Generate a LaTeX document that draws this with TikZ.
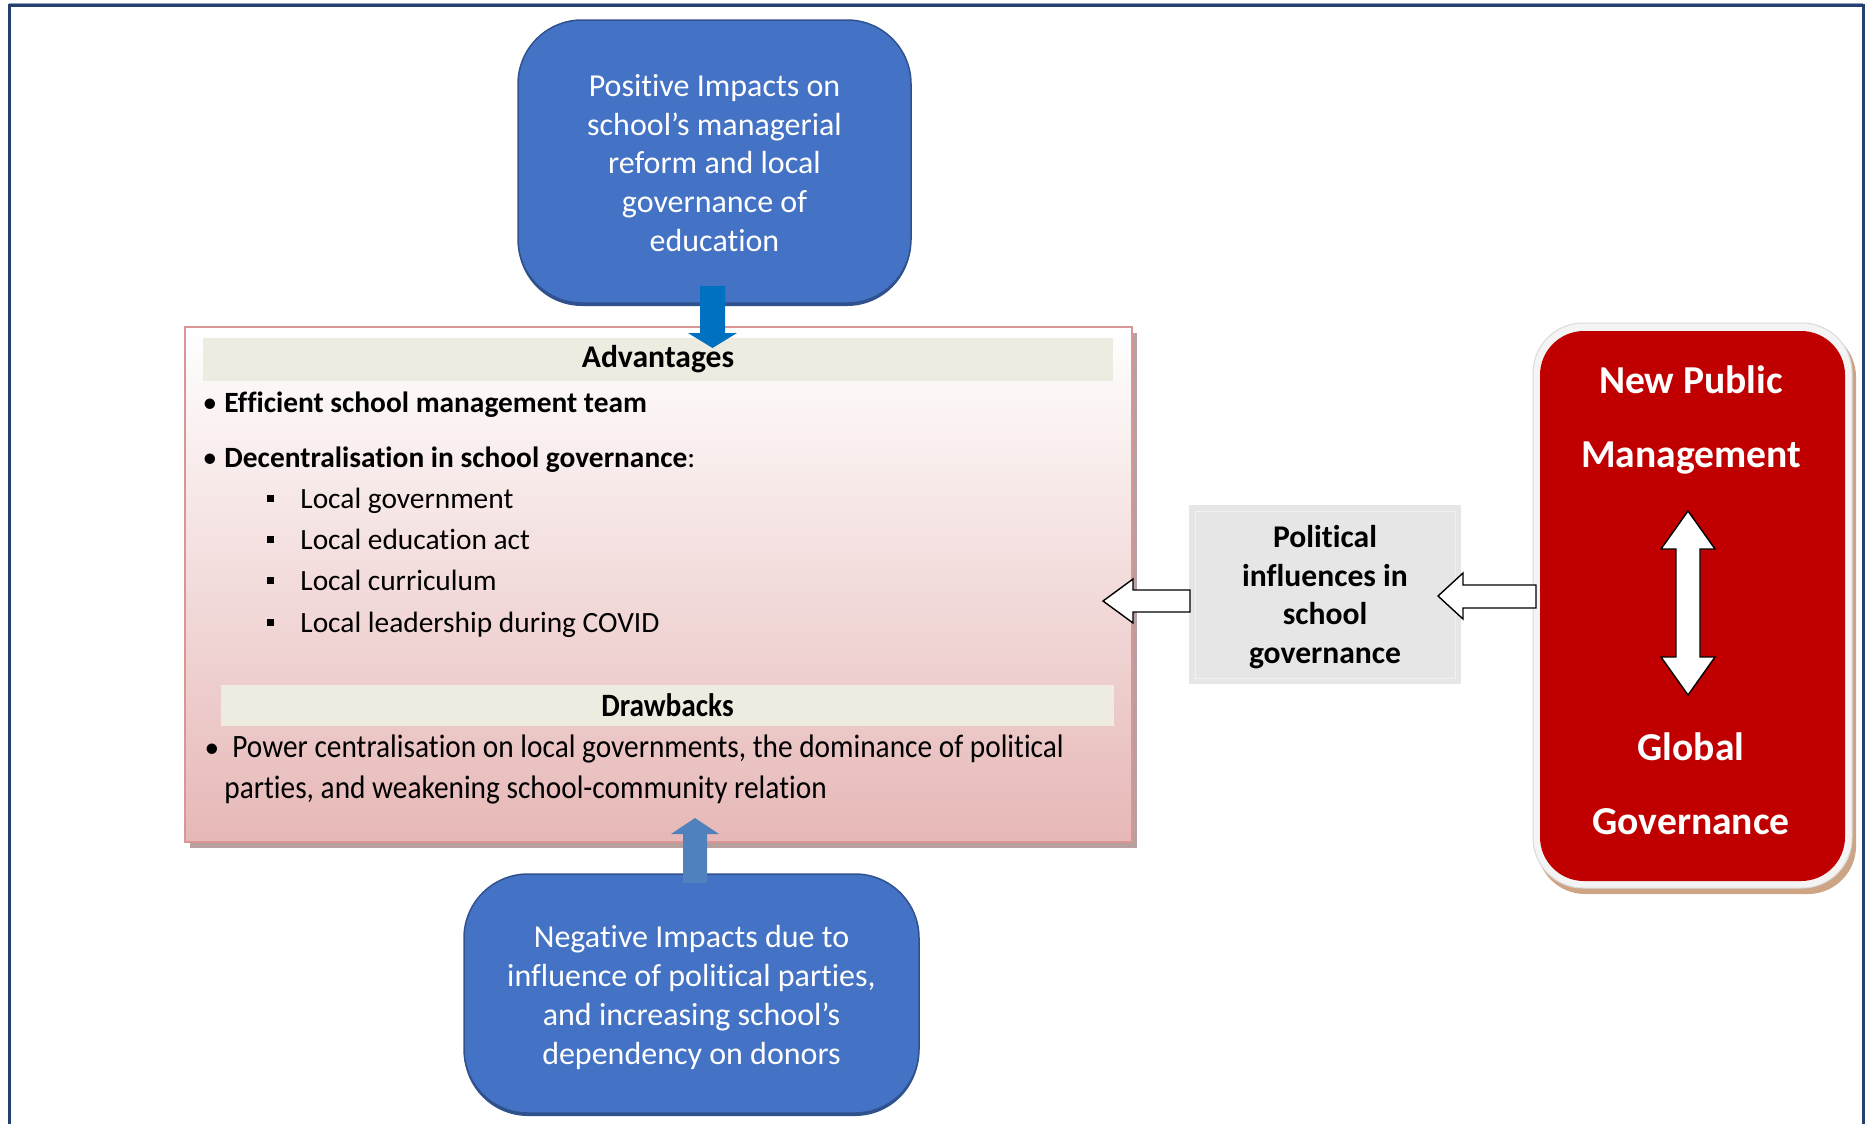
\documentclass[tikz,border=0pt]{standalone}
\usepackage{fontspec}
\setmainfont{Carlito}[Ligatures=NoCommon]
\usetikzlibrary{calc}

\definecolor{frameblue}{HTML}{24406E}
\definecolor{framelight}{HTML}{8FA3C0}
\definecolor{boxblue}{HTML}{4472C4}
\definecolor{boxblueline}{HTML}{2F528F}
\definecolor{arrowblue}{HTML}{0070C0}
\definecolor{arrowblueB}{HTML}{4F81BD}
\definecolor{pinkline}{HTML}{D99694}
\definecolor{pinkbottom}{HTML}{E6B8B7}
\definecolor{pinkmid}{HTML}{F3E0E0}
\definecolor{pinkshadow}{HTML}{B8A0A0}
\definecolor{bandbeige}{HTML}{EEECE1}
\definecolor{greybox}{HTML}{E6E6E6}
\definecolor{greyinner}{HTML}{F2F2F2}
\definecolor{npmred}{HTML}{C00000}
\definecolor{npmrim}{HTML}{F4F4F4}
\definecolor{npmrimline}{HTML}{DADADA}
\definecolor{npmshadow}{HTML}{CDA585}

\tikzset{
  bluebox/.style={draw=boxblueline, fill=boxblue, line width=0.75pt,
    rounded corners=32pt, text=white, align=center, inner sep=0pt,
    font=\fontsize{16}{19.4}\selectfont},
  bandbox/.style={fill=bandbeige, inner sep=0pt,
    font=\bfseries\fontsize{15.8}{19}\selectfont},
  listtxt/.style={anchor=base west, inner sep=0pt,
    font=\fontsize{14.7}{17}\selectfont},
  bulletdot/.style={anchor=base, inner sep=0pt,
    font=\fontsize{14.7}{17}\selectfont},
  sqbullet/.style={fill=black, minimum size=3.5pt, inner sep=0pt},
  hollowarrow/.style={draw=black, fill=white, line width=0.7pt, line join=miter},
  redtxt/.style={text=white, align=center, inner sep=0pt,
    font=\bfseries\fontsize{19.8}{37}\selectfont},
}

\begin{document}
\begin{tikzpicture}[x=0.5pt,y=-0.5pt]
\useasboundingbox (0,0) rectangle (1872,1124);

% page frame (open at the bottom)
\draw[framelight, line width=0.6pt] (9,3.4) -- (1863,3.4);
\draw[frameblue, line width=1.5pt] (9,1124) -- (9,5.5) -- (1863,5.5) -- (1863,1124);

% ---------------- central panel ----------------
\fill[pinkshadow] (190,333) rectangle (1137,848);
\node[draw=pinkline, line width=1.1pt, top color=white, middle color=pinkmid,
      bottom color=pinkbottom, minimum width=473.5pt, minimum height=257.5pt,
      inner sep=0pt] (panel) at (658.5,584.5) {};

\node[bandbox, minimum width=455pt, minimum height=21.5pt] (advhead)
  at (658,359.5) {Advantages};

\node[bulletdot] (d1) at (210,412) {•};
\node[listtxt] (adv1) at (224,412) {\textbf{Efficient school management team}};
\node[bulletdot] (d2) at (210,467) {•};
\node[listtxt] (adv2) at (224,467) {\textbf{Decentralisation in school governance}:};

\node[sqbullet] (s1) at (270,498) {};
\node[listtxt] (l1) at (300,508) {Local government};
\node[sqbullet] (s2) at (270,539) {};
\node[listtxt] (l2) at (300,549) {Local education act};
\node[sqbullet] (s3) at (270,580) {};
\node[listtxt] (l3) at (300,590) {Local curriculum};
\node[sqbullet] (s4) at (270,622) {};
\node[listtxt] (l4) at (300,632) {Local leadership during COVID};

\node[bandbox, minimum width=446.5pt, minimum height=20.5pt] (drhead)
  at (667.5,705.5) {\scalebox{0.9}[1]{\fontsize{16.3}{19}\selectfont\bfseries Drawbacks}};

\node[bulletdot] (d3) at (212,757) {•};
\node[listtxt] (dr1) at (232,757)
  {\scalebox{0.9}[1]{\fontsize{16.3}{19}\selectfont Power centralisation on local governments, the dominance of political}};
\node[listtxt] (dr2) at (224,798)
  {\scalebox{0.9}[1]{\fontsize{16.3}{19}\selectfont parties, and weakening school-community relation}};

% ---------------- blue boxes ----------------
\fill[boxblueline, rounded corners=32pt] (518,23) rectangle (911,306);
\node[bluebox, minimum width=196.5pt, minimum height=141.5pt] (pos) at (714.5,161.5) {};
\node[text=white, align=center, inner sep=0pt, font=\fontsize{16}{19.4}\selectfont]
  (postxt) at (714.5,163)
  {Positive Impacts on\\school’s managerial\\reform and local\\governance of\\education};

\fill[boxblueline, rounded corners=32pt] (464,877) rectangle (919,1116);
\node[bluebox, minimum width=227.5pt, minimum height=119.5pt] (neg) at (691.5,993.5) {};
\node[text=white, align=center, inner sep=0pt, font=\fontsize{16}{19.4}\selectfont]
  (negtxt) at (691.5,997.5)
  {Negative Impacts due to\\influence of political parties,\\and increasing school’s\\dependency on donors};

% thick arrows into the panel
\fill[arrowblue] (700,286) -- (725,286) -- (725,333) -- (737,333) -- (712.5,348)
  -- (688,333) -- (700,333) -- cycle;
\fill[arrowblueB] (683,883) -- (707,883) -- (707,834) -- (719,834) -- (695,818)
  -- (671,834) -- (683,834) -- cycle;

% ---------------- political influences ----------------
\node[fill=greybox, minimum width=136pt, minimum height=89.5pt, inner sep=0pt] (pol)
  at (1325,594.5) {};
\draw[greyinner, line width=0.5pt] (1195,511) rectangle (1455,678);
\node[align=center, inner sep=0pt, font=\bfseries\fontsize{15.8}{19.4}\selectfont] (poltxt)
  at (1325,597) {Political\\influences in\\school\\governance};

% ---------------- NPM / global governance ----------------
\fill[npmshadow, rounded corners=24pt] (1537,329) rectangle (1856,894);
\filldraw[fill=npmrim, draw=npmrimline, line width=0.5pt, rounded corners=25pt]
  (1533,323) rectangle (1852,888);
\node[fill=npmred, rounded corners=22pt, minimum width=152.5pt, minimum height=275pt,
      inner sep=0pt] (npmbox) at (1692.5,606) {};
\node[redtxt] (npm) at (1691,420) {New Public\\Management};
\node[redtxt] (gg) at (1691,784) {Global\\Governance};

% two-headed arrow between the two notions
\filldraw[hollowarrow] (1688,511) -- (1715,549) -- (1700,549) -- (1700,657)
  -- (1715,657) -- (1688,695) -- (1661,657) -- (1676,657) -- (1676,549)
  -- (1661,549) -- cycle;

% hollow arrows: NPM -> political influences -> panel
\filldraw[hollowarrow] (1536,585) -- (1463,585) -- (1463,573) -- (1438,596)
  -- (1463,619) -- (1463,608) -- (1536,608) -- cycle;
\filldraw[hollowarrow] (1190,590) -- (1133,590) -- (1133,579) -- (1103,601)
  -- (1133,623) -- (1133,612) -- (1190,612) -- cycle;

\end{tikzpicture}
\end{document}
